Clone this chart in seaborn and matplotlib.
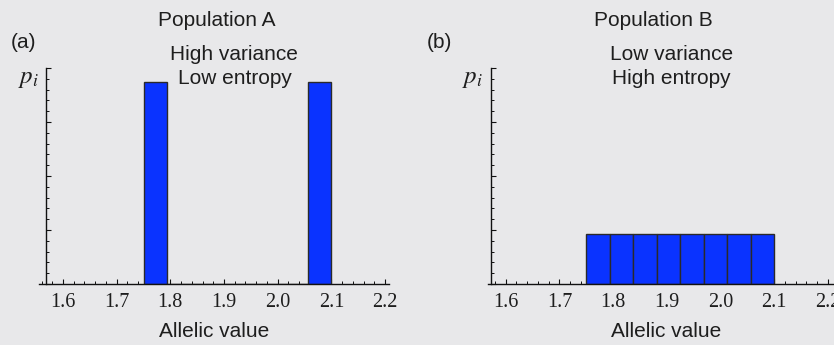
import matplotlib
matplotlib.use("Agg")
import matplotlib.pyplot as plt
from matplotlib.ticker import MultipleLocator
import seaborn as sns
import pandas as pd

# ---- data ----
bin_edges = [1.75, 1.79375, 1.8375, 1.88125, 1.925, 1.96875, 2.0125, 2.05625, 2.1]
bin_centers = [1.771875, 1.815625, 1.859375, 1.903125, 1.946875, 1.990625, 2.034375, 2.078125]
p_pop_a = [0.5, 0.0, 0.0, 0.0, 0.0, 0.0, 0.0, 0.5]
p_pop_b = [0.125, 0.125, 0.125, 0.125, 0.125, 0.125, 0.125, 0.125]
panel_titles = ["Population A", "Population B"]
panel_tags = ["(a)", "(b)"]
panel_notes = [["High variance", "Low entropy"], ["Low variance", "High entropy"]]
x_ticks = [1.6, 1.7, 1.8, 1.9, 2.0, 2.1, 2.2]
x_label = "Allelic value"
y_label = r"$p_i$"

df_a = pd.DataFrame({"value": bin_centers, "p": p_pop_a})
df_b = pd.DataFrame({"value": bin_centers, "p": p_pop_b})

# ---- style ----
BG = "#E8E8EA"
BAR = "#0A33FF"
EDGE = "#2a2a2a"
TXT = "#1e1e1e"
sans = ["Liberation Sans", "DejaVu Sans"]
serif = ["Liberation Serif", "DejaVu Serif"]

sns.set_style("white")
plt.rcParams["mathtext.fontset"] = "stix"

W, H = 834, 345
fig = plt.figure(figsize=(W / 100, H / 100), dpi=100, facecolor=BG)

def px_rect(l, r, b, t):
    return [l / W, 1 - b / H, (r - l) / W, (b - t) / H]

y_major = 0.5 * 15 / 56
ytop = 4 * y_major

specs = [
    (px_rect(39, 389, 284, 68), (1.5553, 2.2074), 1.568, df_a),
    (px_rect(488, 844, 284, 68), (1.567, 2.230), 1.572, df_b),
]

for i, (rect, xl, yx, df) in enumerate(specs):
    ax = fig.add_axes(rect)
    ax.set_facecolor(BG)
    sns.histplot(data=df, x="value", weights="p", bins=bin_edges, stat="count",
                 color=BAR, alpha=1.0, edgecolor=EDGE, linewidth=1.0, ax=ax)
    ax.set_xlim(*xl)
    ax.set_ylim(0, ytop)
    for s in ["top", "right"]:
        ax.spines[s].set_visible(False)
    ax.spines["left"].set_position(("data", yx))
    for s in ["left", "bottom"]:
        ax.spines[s].set_color("#111111")
        ax.spines[s].set_linewidth(1.0)
    ax.set_xticks(x_ticks)
    ax.set_xticklabels([f"{t:.1f}" for t in x_ticks], family=serif, fontsize=14.5, color=TXT)
    ax.xaxis.set_minor_locator(MultipleLocator(0.02))
    ax.yaxis.set_major_locator(MultipleLocator(y_major))
    ax.yaxis.set_minor_locator(MultipleLocator(y_major / 5))
    ax.set_yticklabels([])
    ax.tick_params(axis="both", which="both", bottom=True, left=True, top=False, right=False)
    ax.tick_params(axis="both", which="major", direction="in", length=3.8, width=0.8, color="#111111", pad=6.5)
    ax.tick_params(axis="both", which="minor", direction="in", length=2.0, width=0.7, color="#111111")
    ax.set_xlabel(x_label, family=sans, fontsize=15, color=TXT, labelpad=7)
    ax.set_ylabel("")
    ax.set_zorder(1)

# texts
fig.text(217 / W, 1 - 21 / H, panel_titles[0], family=sans, fontsize=15, color=TXT, ha="center", va="center")
fig.text(653 / W, 1 - 21 / H, panel_titles[1], family=sans, fontsize=15, color=TXT, ha="center", va="center")
fig.text(24 / W, 1 - 43 / H, panel_tags[0], family=sans, fontsize=15, color=TXT, ha="center", va="center")
fig.text(439 / W, 1 - 43 / H, panel_tags[1], family=sans, fontsize=15, color=TXT, ha="center", va="center")
fig.text(234 / W, 1 - 54 / H, panel_notes[0][0], family=sans, fontsize=15, color=TXT, ha="center", va="center")
fig.text(235 / W, 1 - 79 / H, panel_notes[0][1], family=sans, fontsize=15, color=TXT, ha="center", va="center")
fig.text(672 / W, 1 - 54 / H, panel_notes[1][0], family=sans, fontsize=15, color=TXT, ha="center", va="center")
fig.text(671 / W, 1 - 79 / H, panel_notes[1][1], family=sans, fontsize=15, color=TXT, ha="center", va="center")
fig.text(29 / W, 1 - 78 / H, y_label, fontsize=18, color=TXT, ha="center", va="center")
fig.text(473 / W, 1 - 78 / H, y_label, fontsize=18, color=TXT, ha="center", va="center")

fig.savefig("out.png", dpi=100, facecolor=BG)
